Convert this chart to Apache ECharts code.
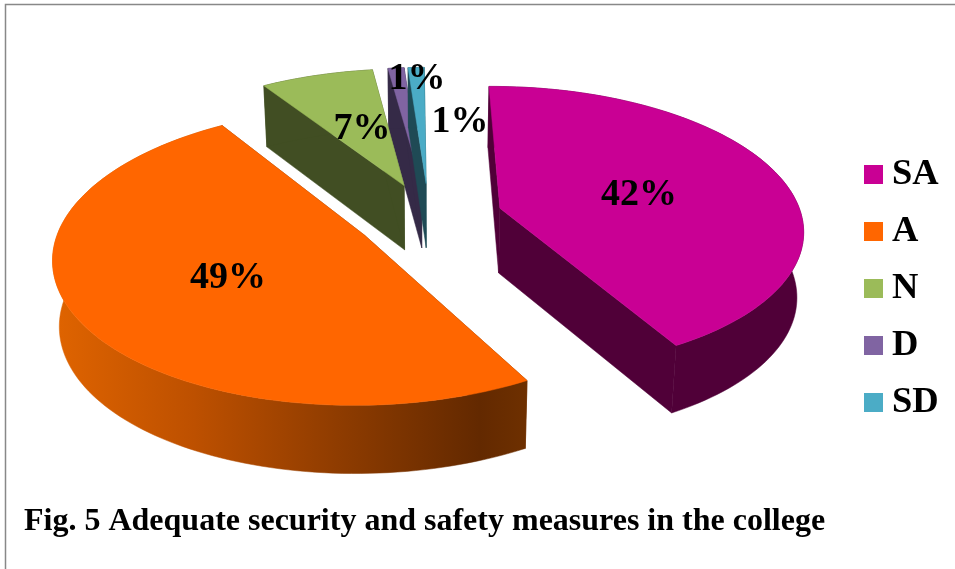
<!DOCTYPE html>
<html><head><meta charset="utf-8">
<style>html,body{margin:0;padding:0;background:#fff}#c{width:955px;height:569px}</style>
<script src="https://cdn.jsdelivr.net/npm/echarts@6/dist/echarts.min.js"></script>
</head><body><div id="c"></div>
<script>
const categories = ['SA', 'A', 'N', 'D', 'SD'];
const shares = [42, 49, 7, 1, 1];
const chartTitle = 'Fig. 5 Adequate security and safety measures in the college';

// Styling
const topColors = ['#C90094', '#FF6600', '#9BBB59', '#8064A2', '#4BACC6'];
const sideColors = ['#500038', '#7a3300', '#414E23', '#352A47', '#1F4A55'];
const stacking = [3, 4, 2, 1, 1];
const labelSpots = [[639, 195], [228, 278], [362, 129], [417, 79], [460, 122]];
const FONT = '"Liberation Serif","Times New Roman",serif';

// Projection of the exploded pie
const VX = 429, VY = 217, RX = 302, RY = 141, PERSP = 0.139, EXPLODE = 0.245, START = -0.5;
const BOTTOM_SCALE = 0.982, DEPTH = 65, DEPTH_VAR = 0.09;

function project(wu, wv) {
  const s = 1 / (1 - PERSP * wv);
  return [VX + RX * wu * s, VY + RY * wv * s];
}
function lower(p, wv) {
  return [VX + (p[0] - VX) * BOTTOM_SCALE,
          VY + (p[1] - VY) * BOTTOM_SCALE + DEPTH * (1 + DEPTH_VAR * wv)];
}
const total = shares.reduce((a, b) => a + b, 0);

function sliceShapes(idx) {
  const before = shares.slice(0, idx).reduce((a, b) => a + b, 0);
  const a0 = START + before / total * 360;
  const a1 = a0 + shares[idx] / total * 360;
  const mid = (a0 + a1) / 2 * Math.PI / 180;
  const cu = EXPLODE * Math.sin(mid), cv = -EXPLODE * Math.cos(mid);
  const steps = Math.max(6, Math.ceil((a1 - a0) / 1.5));
  const arcTop = [], arcBot = [];
  for (let i = 0; i <= steps; i++) {
    const t = (a0 + (a1 - a0) * i / steps) * Math.PI / 180;
    const wu = cu + Math.sin(t), wv = cv - Math.cos(t);
    const p = project(wu, wv);
    arcTop.push(p);
    arcBot.push(lower(p, wv));
  }
  const apexTop = project(cu, cv), apexBot = lower(apexTop, cv);
  return {arcTop, arcBot, apexTop, apexBot};
}

function renderSlice(idx) {
  const g = sliceShapes(idx);
  const side = sideColors[idx];
  let rimFill = side;
  if (categories[idx] === 'A') {
    rimFill = {type: 'linear', global: true, x: 52, y: 0, x2: 527, y2: 0, colorStops: [
      {offset: 0, color: '#E06400'}, {offset: 0.3, color: '#BD5000'},
      {offset: 0.6, color: '#8F3C00'}, {offset: 0.9, color: '#632900'}, {offset: 1, color: '#6E3000'}]};
  }
  const n = g.arcTop.length - 1;
  const poly = (points, fill) => ({type: 'polygon', shape: {points},
    style: {fill, stroke: fill, lineWidth: 0.5}});
  return {type: 'group', children: [
    poly([g.apexTop, g.arcTop[0], g.arcBot[0], g.apexBot], side),
    poly([g.apexTop, g.arcTop[n], g.arcBot[n], g.apexBot], side),
    poly(g.arcTop.concat(g.arcBot.slice().reverse()), rimFill),
    poly([g.apexTop].concat(g.arcTop), topColors[idx])
  ]};
}

const sliceSeries = categories.map((name, idx) => ({
  type: 'custom', name, coordinateSystem: 'none', silent: true, animation: false,
  z: stacking[idx], clip: false, color: topColors[idx],
  itemStyle: {color: topColors[idx]},
  data: [shares[idx]],
  renderItem: () => renderSlice(idx)
}));

const labelSeries = {
  type: 'custom', coordinateSystem: 'none', silent: true, animation: false, z: 10,
  data: shares,
  renderItem: (params, api) => ({
    type: 'text', x: labelSpots[params.dataIndex][0], y: labelSpots[params.dataIndex][1],
    style: {text: api.value(0) + '%', fill: '#000', font: 'bold 38px ' + FONT, align: 'center', verticalAlign: 'middle'}
  })
};

const chart = echarts.init(document.getElementById('c'), null, {renderer: 'canvas'});
chart.setOption({
  animation: false,
  backgroundColor: '#fff',
  title: {text: chartTitle, left: 24, top: 506, padding: 0,
    textStyle: {fontFamily: FONT, fontWeight: 'bold', fontSize: 32, color: '#000'}},
  legend: {orient: 'vertical', left: 864, top: 156, padding: 0, itemWidth: 19, itemHeight: 19, itemGap: 20, icon: 'rect',
    data: categories, selectedMode: false,
    textStyle: {fontFamily: FONT, fontWeight: 'bold', fontSize: 36.5, lineHeight: 36, color: '#000', padding: [0, 0, 0, 4]}},
  graphic: [{type: 'polyline', shape: {points: [[5.5, 569], [5.5, 4.5], [955, 4.5]]},
    style: {stroke: '#888', lineWidth: 1.5, fill: null}, silent: true}],
  series: sliceSeries.concat([labelSeries])
});
</script></body></html>
